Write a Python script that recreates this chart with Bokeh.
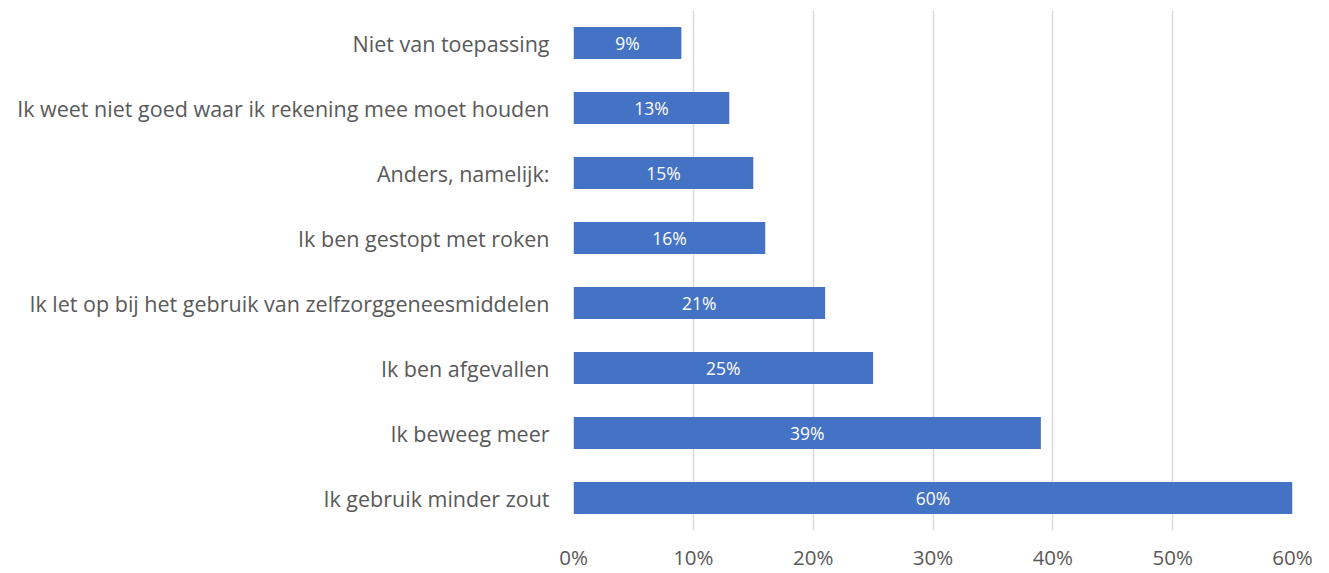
from bokeh.plotting import figure
from bokeh.models import ColumnDataSource, FactorRange, Range1d, FixedTicker, CustomJSTickFormatter
from bokeh.core.properties import value
from bokeh.embed import file_html
from bokeh.resources import INLINE

categories = [
    "Ik gebruik minder zout",
    "Ik beweeg meer",
    "Ik ben afgevallen",
    "Ik let op bij het gebruik van zelfzorggeneesmiddelen",
    "Ik ben gestopt met roken",
    "Anders, namelijk:",
    "Ik weet niet goed waar ik rekening mee moet houden",
    "Niet van toepassing",
]
values = [60, 39, 25, 21, 16, 15, 13, 9]
labels = [f"{v}%" for v in values]
ticks = [0, 10, 20, 30, 40, 50, 60]

src = ColumnDataSource(dict(cat=categories, val=values, mid=[v / 2 for v in values], lab=labels))

FONT = "Open Sans"
TXT = "#595959"

p = figure(width=1329, height=573, y_range=FactorRange(factors=categories),
           x_range=Range1d(0, 60), output_backend="svg", toolbar_location=None,
           min_border_left=573, min_border_right=37, min_border_top=10, min_border_bottom=43)
p.outline_line_color = None
p.background_fill_color = "white"

p.hbar(y="cat", right="val", left=0, height=0.49, source=src, color="#4472C4", line_color=None)
p.text(x="mid", y="cat", text="lab", source=src, text_color="white",
       text_font=value(FONT), text_font_size="17.5px", text_align="center", text_baseline="middle")

p.xaxis.ticker = FixedTicker(ticks=ticks)
p.xaxis.formatter = CustomJSTickFormatter(code="return tick + '%';")
p.xaxis.axis_line_color = None
p.xaxis.major_tick_line_color = None
p.xaxis.minor_tick_line_color = None
p.xaxis.major_label_text_font = FONT
p.xaxis.major_label_text_font_size = "20.5px"
p.xaxis.major_label_text_color = TXT
p.xaxis.major_label_standoff = 6

p.yaxis.axis_line_color = None
p.yaxis.major_tick_line_color = None
p.yaxis.minor_tick_line_color = None
p.yaxis.major_label_text_font = FONT
p.yaxis.major_label_text_font_size = "21.5px"
p.yaxis.major_label_text_color = TXT
p.yaxis.major_label_standoff = 18

p.ygrid.grid_line_color = None
p.xgrid.grid_line_color = "#D9D9D9"
p.xgrid.grid_line_width = 1.5

open("out.html", "w").write(file_html(p, INLINE))
